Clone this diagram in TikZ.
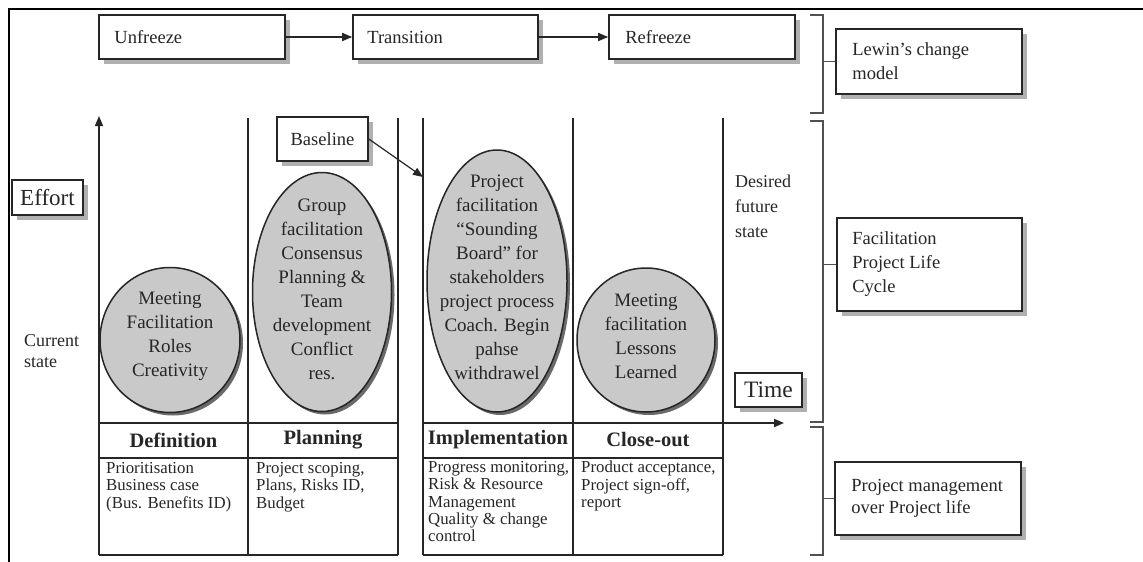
\documentclass[tikz,border=0pt]{standalone}
\usepackage{fontspec}
\setmainfont{Liberation Serif}
\usetikzlibrary{arrows.meta,shapes.geometric}
\definecolor{ink}{HTML}{262626}
\definecolor{blobfill}{HTML}{C9C9C9}
\definecolor{boxshadow}{HTML}{B0B0B0}
\definecolor{blobshadow}{HTML}{6A6A6A}
\begin{document}
\begin{tikzpicture}[x=1pt,y=-1pt,
  every node/.style={text=ink},
  box/.style={draw=ink, line width=1.6pt, fill=white, font=\fontsize{18.5}{24}\selectfont},
  bsh/.style={draw=none, fill=boxshadow, inner sep=0pt},
  ltext/.style={align=left, anchor=west, inner sep=0pt, font=\fontsize{18.5}{24}\selectfont},
  blob/.style={ellipse, draw=ink, line width=1.5pt, fill=blobfill, inner sep=0pt},
  esh/.style={ellipse, draw=none, fill=blobshadow, inner sep=0pt},
  etext/.style={align=center, font=\fontsize{19}{24}\selectfont, inner sep=0pt},
  hdr/.style={font=\fontsize{20.5}{22}\bfseries\selectfont, inner sep=0pt},
  body/.style={align=left, anchor=north west, inner sep=0pt, font=\fontsize{16.8}{17.4}\selectfont},
  plain/.style={align=left, inner sep=0pt},
  colline/.style={draw=ink, line width=1.4pt},
  tabline/.style={draw=ink, line width=1.8pt},
  brace/.style={draw=ink!80, line width=1.8pt},
  arr/.style={draw=ink, line width=1.4pt, -{Triangle[length=10pt,width=8pt]}}
]
\useasboundingbox (0,0) rectangle (1143,562);

% ---------- shadows (plain filled shapes, drawn first) ----------
\node[bsh, minimum width=186pt, minimum height=44pt] (unfs) at (197,42) {};
\node[bsh, minimum width=185pt, minimum height=44pt] (tras) at (450.5,42) {};
\node[bsh, minimum width=186pt, minimum height=44pt] (refs) at (707,42) {};
\node[bsh, minimum width=91pt, minimum height=44pt] (bases) at (327.5,144) {};
\node[bsh, minimum width=71pt, minimum height=35pt] (effs) at (52.5,202.5) {};
\node[bsh, minimum width=67pt, minimum height=34pt] (times) at (773.5,395) {};
\node[bsh, minimum width=186pt, minimum height=65pt] (lews) at (934,66.5) {};
\node[bsh, minimum width=185pt, minimum height=93pt] (facs) at (934.5,269.5) {};
\node[bsh, minimum width=186pt, minimum height=73pt] (pms) at (933,503.5) {};

% outer frame (top and left edges)
\draw[line width=2pt, black] (9,562) -- (9,9) -- (1143,9);

% Lewin's change model
\node[box, minimum width=186pt, minimum height=44pt] (unf) at (192,37) {};
\node[box, minimum width=185pt, minimum height=44pt] (tra) at (445.5,37) {};
\node[box, minimum width=186pt, minimum height=44pt] (ref) at (702,37) {};
\node[ltext] (unft) at ([xshift=16pt]unf.west) {Unfreeze};
\node[ltext] (trat) at ([xshift=15pt]tra.west) {Transition};
\node[ltext] (reft) at ([xshift=17pt]ref.west) {Refreeze};
\draw[arr] (unf) -- (tra);
\draw[arr] (tra) -- (ref);

% column lines
\draw[colline] (248,118) -- (248,555);
\draw[colline] (398,118) -- (398,555);
\draw[colline] (423,118) -- (423,555);
\draw[colline] (573,118) -- (573,555);
\draw[colline] (723,118) -- (723,555);

% effort axis
\coordinate (a0) at (99,555);
\coordinate (a1) at (99,116);
\draw[arr] (a0) -- (a1);

% tables
\draw[tabline] (99,423) -- (398,423);
\draw[tabline] (99,458) -- (398,458);
\draw[tabline] (99,555) -- (398,555);
\draw[tabline] (423,458) -- (723,458);
\draw[tabline] (423,555) -- (723,555);
\coordinate (t0) at (423,423);
\coordinate (t1) at (784,423);
\draw[arr, line width=1.8pt] (t0) -- (t1);

% ellipse shadows
\node[esh, minimum width=140pt, minimum height=145pt] (e1s) at (173,343) {};
\node[esh, minimum width=139pt, minimum height=239pt] (e2s) at (325,295) {};
\node[esh, minimum width=140pt, minimum height=262pt] (e3s) at (500,284) {};
\node[esh, minimum width=138pt, minimum height=144pt] (e4s) at (649,343) {};
% ellipses
\node[blob, minimum width=140pt, minimum height=145pt] (e1) at (170,340) {};
\node[blob, minimum width=139pt, minimum height=239pt] (e2) at (322,292) {};
\node[blob, minimum width=140pt, minimum height=262pt] (e3) at (497,281) {};
\node[blob, minimum width=138pt, minimum height=144pt] (e4) at (646,340) {};
\node[etext] (e1t) at (170,336) {Meeting\\Facilitation\\Roles\\Creativity};
\node[etext] (e2t) at (322,289) {Group\\facilitation\\Consensus\\Planning \&\\Team\\development\\Conflict\\res.};
\node[etext] (e3t) at (497,277) {Project\\facilitation\\``Sounding\\Board'' for\\stakeholders\\project process\\Coach. Begin\\pahse\\withdrawel};
\node[etext] (e4t) at (646,336) {Meeting\\facilitation\\Lessons\\Learned};

% baseline
\node[box, minimum width=91pt, minimum height=44pt, inner sep=0pt] (base) at (322.5,139) {Baseline};
\coordinate (bt) at (423,177);
\draw[arr, line width=1.2pt] (base.east) -- (bt);

% axis labels
\node[box, font=\fontsize{23}{24}\selectfont, minimum width=71pt, minimum height=35pt, inner sep=0pt] (eff) at (47.5,197.5) {Effort};
\node[box, font=\fontsize{23.5}{24}\selectfont, minimum width=67pt, minimum height=34pt, inner sep=0pt] (time) at (768.5,390) {Time};
\node[plain, anchor=west, font=\fontsize{18}{21}\selectfont] (cur) at (24,351) {Current\\state};
\node[plain, anchor=north west, font=\fontsize{18}{25}\selectfont] (des) at (735,175) {Desired\\future\\state};

% table headers
\node[hdr] (hdef) at (173.5,440) {Definition};
\node[hdr] (hpla) at (323,440) {Planning};
\node[hdr] (himp) at (498,440) {Implementation};
\node[hdr] (hclo) at (648,440) {Close-out};

% table bodies
\node[body] (bdef) at (106,462) {Prioritisation\\Business case\\(Bus. Benefits ID)};
\node[body] (bpla) at (256,462) {Project scoping,\\Plans, Risks ID,\\Budget};
\node[body] (bimp) at (428,461) {Progress monitoring,\\Risk \& Resource\\Management\\Quality \& change\\control};
\node[body] (bclo) at (581,461) {Product acceptance,\\Project sign-off,\\report};

% right-hand brackets and boxes
\node[box, minimum width=186pt, minimum height=65pt] (lew) at (929,61.5) {};
\node[box, minimum width=185pt, minimum height=93pt] (fac) at (929.5,264.5) {};
\node[box, minimum width=186pt, minimum height=73pt] (pm) at (928,498.5) {};
\node[ltext] (lewt) at ([xshift=17pt]lew.west) {Lewin's change\\model};
\node[ltext] (fact) at ([xshift=16pt]fac.west) {Facilitation\\Project Life\\Cycle};
\node[ltext, font=\fontsize{18.5}{22}\selectfont] (pmt) at ([xshift=17pt]pm.west) {Project management\\over Project life};

\draw[brace] (810,15) -- (823,15) -- (823,113) -- (810,113);
\draw[brace] (810,121) -- (823,121) -- (823,422) -- (810,422);
\draw[brace] (810,427) -- (823,427) -- (823,555) -- (810,555);
\coordinate (s1) at (823,61.5);
\coordinate (s2) at (823,264.5);
\coordinate (s3) at (823,498.5);
\draw[brace] (s1) -- (lew.west);
\draw[brace] (s2) -- (fac.west);
\draw[brace] (s3) -- (pm.west);
\end{tikzpicture}
\end{document}
